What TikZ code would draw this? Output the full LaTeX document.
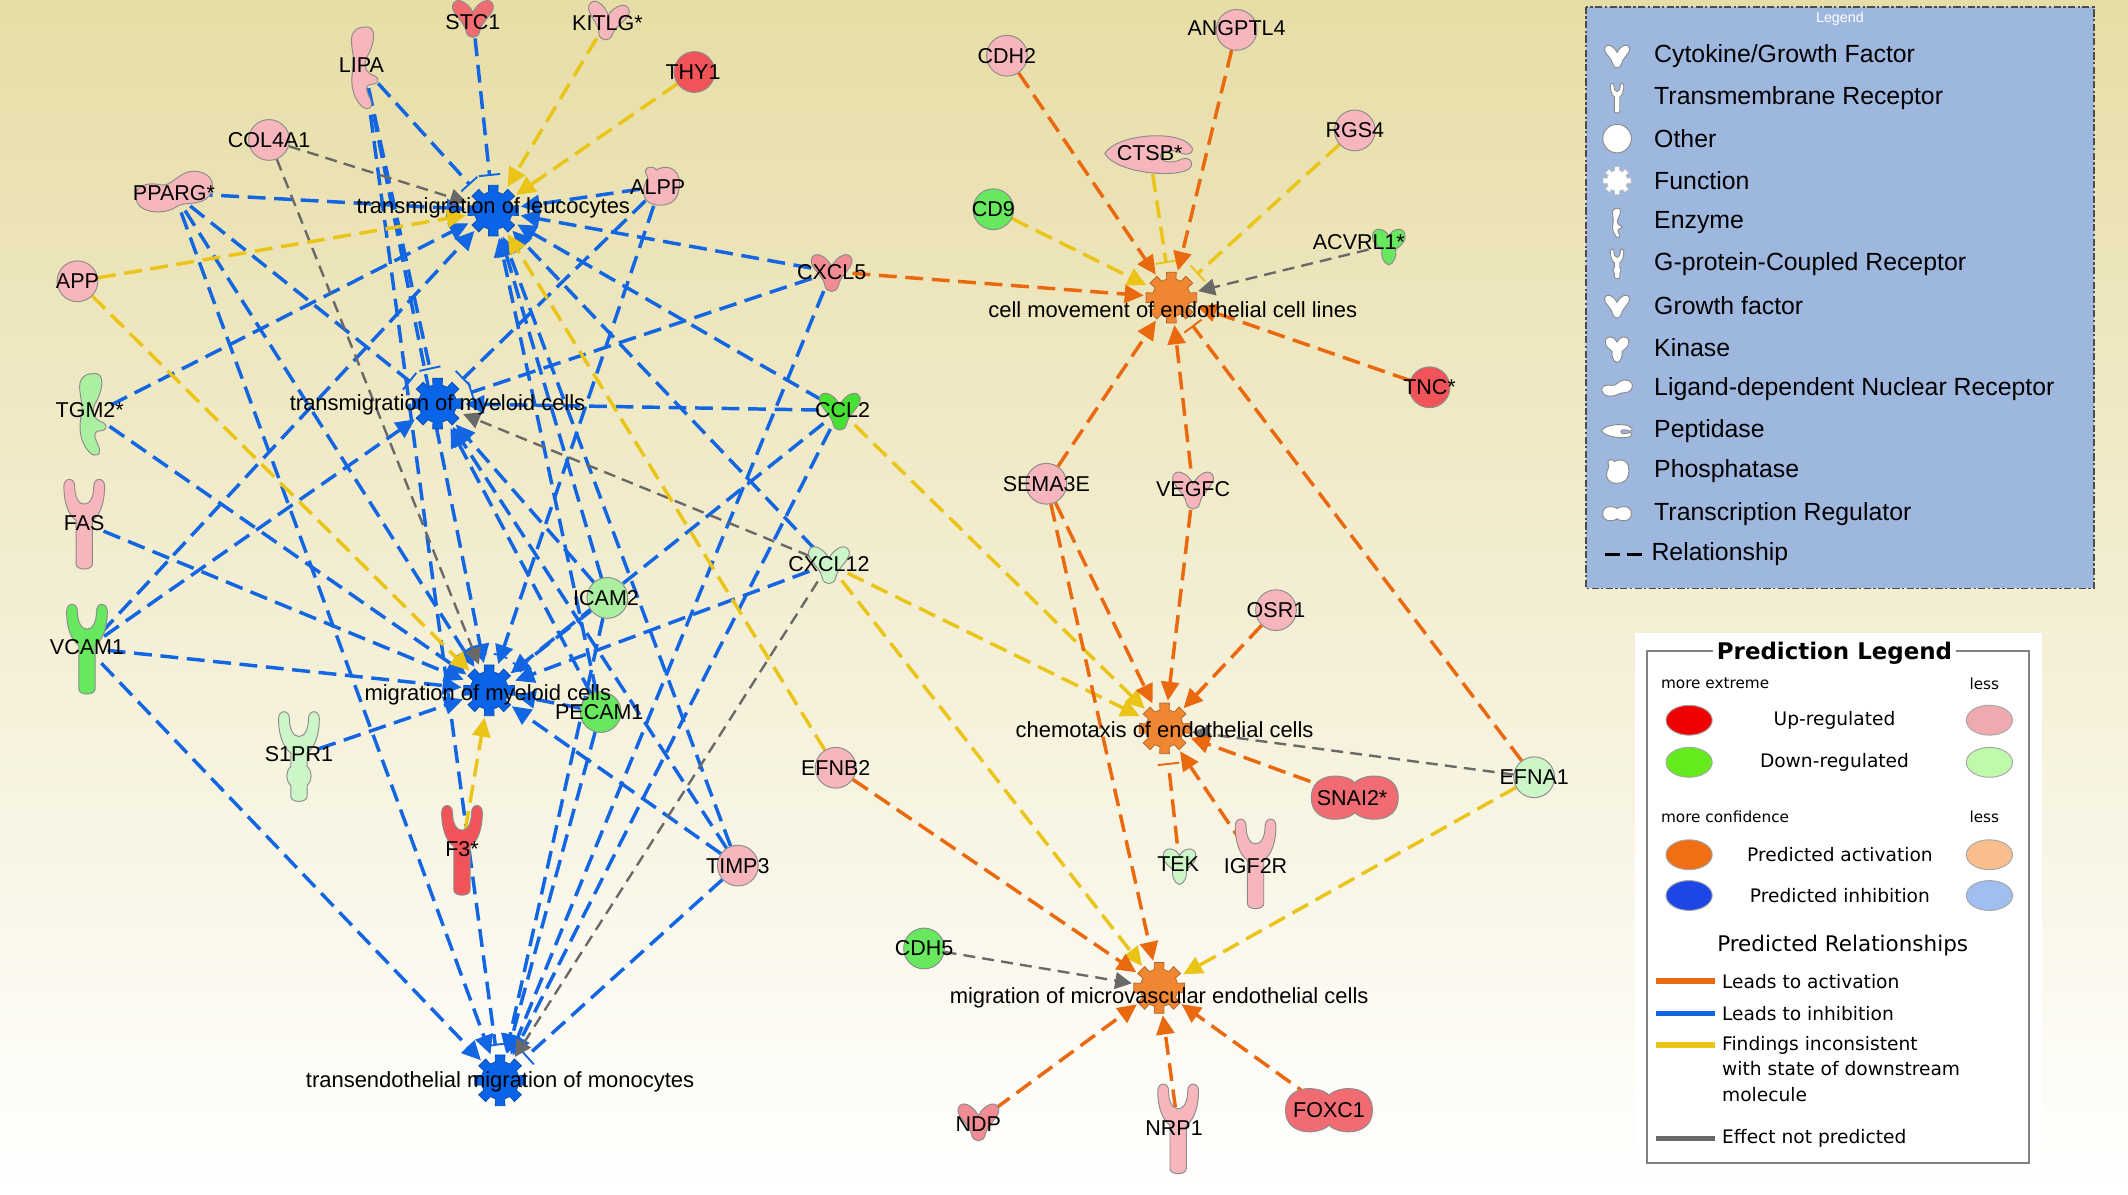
\documentclass[tikz,border=0pt]{standalone}
\usepackage{fontspec}
\setmainfont{Liberation Sans}
\newfontfamily\predfont{DejaVu Sans}
\usetikzlibrary{arrows.meta}

\definecolor{bgtop}{RGB}{231,221,166}
\definecolor{relblue}{RGB}{18,102,228}
\definecolor{relorange}{RGB}{234,104,14}
\definecolor{relyellow}{RGB}{234,196,22}
\definecolor{relgray}{RGB}{105,105,105}
\definecolor{fblue}{RGB}{10,100,232}
\definecolor{forange}{RGB}{238,134,50}
\definecolor{upsoft}{RGB}{246,182,188}
\definecolor{upmed}{RGB}{242,140,148}
\definecolor{upmid}{RGB}{240,108,114}
\definecolor{upstrong}{RGB}{240,84,88}
\definecolor{dnsoft}{RGB}{204,246,200}
\definecolor{dnmid}{RGB}{170,240,160}
\definecolor{dnstrong}{RGB}{104,232,94}
\definecolor{dnvivid}{RGB}{70,225,50}
\definecolor{shapeline}{RGB}{140,140,140}
\definecolor{legblue}{RGB}{158,183,222}

% molecule and function icons (y runs downwards)
\tikzset{
  pics/other/.style={code={\path[draw=shapeline, fill=#1] (0,0) circle[radius=15];}},
  pics/cytok/.style={code={\path[draw=shapeline, fill=#1] (0,-4) .. controls (-4,-12) and (-13,-16) .. (-15,-9) .. controls (-16,-3) and (-6,3) .. (-5,10) .. controls (-4,16) and (4,16) .. (5,10) .. controls (6,3) and (16,-3) .. (15,-9) .. controls (13,-16) and (4,-12) .. (0,-4) -- cycle;}},
  pics/tmrec/.style={code={\path[draw=shapeline, fill=#1] (-6,30) -- (-6,-2) .. controls (-12,-6) and (-15,-16) .. (-15,-27) .. controls (-15,-34) and (-7,-34) .. (-7,-27) .. controls (-7,-19) and (-4,-14) .. (0,-14) .. controls (4,-14) and (7,-19) .. (7,-27) .. controls (7,-34) and (15,-34) .. (15,-27) .. controls (15,-16) and (12,-6) .. (6,-2) -- (6,30) .. controls (6,35) and (-6,35) .. (-6,30) -- cycle;}},
  pics/gpcr/.style={code={\path[draw=shapeline, fill=#1] (-6,30) -- (-6,22) .. controls (-10,18) and (-10,12) .. (-6,8) -- (-6,-2) .. controls (-12,-6) and (-15,-16) .. (-15,-27) .. controls (-15,-34) and (-7,-34) .. (-7,-27) .. controls (-7,-19) and (-4,-14) .. (0,-14) .. controls (4,-14) and (7,-19) .. (7,-27) .. controls (7,-34) and (15,-34) .. (15,-27) .. controls (15,-16) and (12,-6) .. (6,-2) -- (6,8) .. controls (10,12) and (10,18) .. (6,22) -- (6,30) .. controls (6,35) and (-6,35) .. (-6,30) -- cycle;}},
  pics/enzyme/.style={code={\path[draw=shapeline, fill=#1] (0,-30) .. controls (10,-32) and (8,-18) .. (2,-8) .. controls (-1,-2) and (1,4) .. (8,6) .. controls (12,8) and (10,12) .. (6,12) .. controls (2,12) and (0,14) .. (4,22) .. controls (8,30) and (2,32) .. (-2,28) .. controls (-10,20) and (-10,8) .. (-8,0) .. controls (-6,-8) and (-12,-20) .. (-8,-26) .. controls (-6,-29) and (-3,-30) .. (0,-30) -- cycle;}},
  pics/phos/.style={code={\path[draw=shapeline, fill=#1] (-10,-8) .. controls (-14,-14) and (-6,-16) .. (-3,-12) .. controls (4,-16) and (14,-14) .. (14,-2) .. controls (14,10) and (8,14) .. (0,14) .. controls (-10,14) and (-14,8) .. (-12,0) .. controls (-11,-4) and (-8,-6) .. (-10,-8) -- cycle;}},
  pics/ldnr/.style={code={\path[draw=shapeline, fill=#1] (-28,4) .. controls (-30,-6) and (-18,-8) .. (-10,-6) .. controls (-2,-4) and (4,-16) .. (14,-16) .. controls (26,-16) and (32,-8) .. (26,2) .. controls (20,10) and (8,6) .. (2,10) .. controls (-6,16) and (-26,16) .. (-28,4) -- cycle;}},
  pics/pept/.style={code={\path[draw=shapeline, fill=#1] (-33,0) .. controls (-25,-14) and (20,-18) .. (30,-6) .. controls (34,-2) and (30,2) .. (24,0) .. controls (16,-4) and (8,-2) .. (8,2) .. controls (8,6) and (16,8) .. (24,4) .. controls (30,2) and (34,8) .. (28,12) .. controls (16,18) and (-25,14) .. (-33,0) -- cycle;}},
  pics/kinase/.style={code={\path[draw=shapeline, fill=#1] (0,-6) .. controls (-2,-12) and (-12,-14) .. (-12,-6) .. controls (-12,0) and (-6,2) .. (-5,4) .. controls (-6,8) and (-4,14) .. (0,15) .. controls (4,14) and (6,8) .. (5,4) .. controls (6,2) and (12,0) .. (12,-6) .. controls (12,-14) and (2,-12) .. (0,-6) -- cycle;}},
  pics/treg/.style={code={\path[draw=shapeline, fill=#1] (0,-11) .. controls (6,-18) and (32,-20) .. (32,0) .. controls (32,20) and (6,18) .. (0,11) .. controls (-6,18) and (-32,20) .. (-32,0) .. controls (-32,-20) and (-6,-18) .. (0,-11) -- cycle;}},
  pics/gear/.style={code={\path[draw=#1!75!black, line width=0.3pt, fill=#1] (-14:14) \foreach \a in {0,45,...,315} {-- (\a-14:14) -- (\a-11:19) -- (\a+11:19) -- (\a+14:14)} -- cycle;}}
}

\begin{document}
\begin{tikzpicture}[x=0.02cm, y=-0.02cm,
    hub/.style={circle, inner sep=0pt, minimum size=0.6cm},
    fhub/.style={circle, inner sep=0pt, minimum size=0.8cm},
    glabel/.style={inner sep=0pt, font=\fontsize{9}{10}\selectfont},
    flabel/.style={inner sep=0pt, font=\fontsize{9.2}{11}\selectfont},
    relline/.style={line width=1.45pt, dash pattern=on 7.5pt off 3.6pt},
    arrowend/.style={-{Triangle[length=8pt,width=7.5pt]}},
    barend/.style={-{Bar[width=9pt,line width=0.8pt]}, shorten >=3pt},
    toinh/.style={relline, relblue, arrowend},
    barinh/.style={relline, relblue, barend},
    toact/.style={relline, relorange, arrowend},
    baract/.style={relline, relorange, barend},
    toinc/.style={relline, relyellow, arrowend},
    barinc/.style={relline, relyellow, barend},
    tonone/.style={line width=1pt, dash pattern=on 5pt off 3pt, relgray, -{Triangle[length=7pt,width=7pt]}},
    legtext/.style={anchor=west, inner sep=0pt, font=\fontsize{10.4}{12}\selectfont},
    predtext/.style={inner sep=0pt, font=\predfont\fontsize{7.8}{9.5}\selectfont}]

\useasboundingbox (0,0) rectangle (1566,878.7);
\shade[top color=bgtop, bottom color=white] (0,0) rectangle (1566,878.7);

% functions
\node[fhub] (tl) at (363,155) {};
\node[fhub] (tm) at (322,297) {};
\node[fhub] (mm) at (360,508) {};
\node[fhub] (tmo) at (368,795) {};
\node[fhub] (cm) at (862,219) {};
\node[fhub] (ce) at (857,536) {};
\node[fhub] (mmv) at (853,727) {};

% molecules
\node[hub] (stc1) at (348,13) {};
\node[hub] (kitlg) at (447,15) {};
\node[hub] (lipa) at (268,50) {};
\node[hub] (thy1) at (511,53) {};
\node[hub] (col4a1) at (198,103) {};
\node[hub] (pparg) at (128,142) {};
\node[hub] (alpp) at (486,137) {};
\node[hub] (app) at (57,207) {};
\node[hub] (cxcl5) at (612,200) {};
\node[hub] (tgm2) at (68,305) {};
\node[hub] (ccl2) at (618,302) {};
\node[hub] (fas) at (62,385) {};
\node[hub] (cxcl12) at (610,415) {};
\node[hub] (icam2) at (447,440) {};
\node[hub] (vcam1) at (64,477) {};
\node[hub] (pecam1) at (442,524) {};
\node[hub] (s1pr1) at (220,556) {};
\node[hub] (f3) at (340,625) {};
\node[hub] (timp3) at (543,637) {};
\node[hub] (efnb2) at (615,565) {};
\node[hub] (cdh2) at (741,41) {};
\node[hub] (angptl4) at (910,22) {};
\node[hub] (rgs4) at (997,96) {};
\node[hub] (ctsb) at (846,113) {};
\node[hub] (cd9) at (731,154) {};
\node[hub] (acvrl1) at (1022,180) {};
\node[hub] (tnc) at (1052,285) {};
\node[hub] (sema3e) at (770,356) {};
\node[hub] (vegfc) at (878,360) {};
\node[hub] (osr1) at (939,449) {};
\node[hub] (snai2) at (997,587) {};
\node[hub] (efna1) at (1129,572) {};
\node[hub] (tek) at (868,636) {};
\node[hub] (igf2r) at (924,635) {};
\node[hub] (cdh5) at (680,698) {};
\node[hub] (ndp) at (720,825) {};
\node[hub] (nrp1) at (867,830) {};
\node[hub] (foxc1) at (978,817) {};

% relationships
\foreach \s in {stc1,lipa} \draw[barinh] (\s) -- (tl);
\foreach \s in {pparg,alpp,tgm2,vcam1,cxcl5,ccl2,cxcl12,icam2,pecam1,timp3} \draw[toinh] (\s) -- (tl);
\foreach \s in {lipa,pparg,alpp,cxcl5} \draw[barinh] (\s) -- (tm);
\foreach \s in {vcam1,ccl2,icam2,pecam1,timp3} \draw[toinh] (\s) -- (tm);
\foreach \s in {pparg,tgm2,fas,vcam1,s1pr1,lipa,alpp,ccl2,cxcl12,icam2,pecam1,timp3} \draw[toinh] (\s) -- (mm);
\foreach \s in {vcam1,pparg,ccl2,cxcl5,icam2,pecam1} \draw[toinh] (\s) -- (tmo);
\foreach \s in {lipa,timp3} \draw[barinh] (\s) -- (tmo);
\draw[relblue, line width=0.8pt, dash pattern=on 6pt off 3pt] ([shift={(-150:27)}]mm.center) arc[start angle=-150, end angle=-30, radius=27];

\draw[tonone] (col4a1) -- (tl);
\draw[tonone] (col4a1) -- (mm);
\draw[tonone] (cxcl12) -- (tm);
\draw[tonone] (cxcl12) -- (tmo);
\draw[tonone] (acvrl1) -- (cm);
\draw[tonone] (efna1) -- (ce);
\draw[tonone] (cdh5) -- (mmv);

\foreach \s in {kitlg,thy1,app,efnb2} \draw[toinc] (\s) -- (tl);
\foreach \s in {app,f3} \draw[toinc] (\s) -- (mm);
\draw[toinc] (cd9) -- (cm);
\foreach \s in {ctsb,rgs4} \draw[barinc] (\s) -- (cm);
\foreach \s in {ccl2,cxcl12} \draw[toinc] (\s) -- (ce);
\foreach \s in {cxcl12,efna1} \draw[toinc] (\s) -- (mmv);

\foreach \s in {cdh2,angptl4,cxcl5,tnc,sema3e,vegfc} \draw[toact] (\s) -- (cm);
\draw[baract] (efna1) -- (cm);
\foreach \s in {sema3e,vegfc,osr1,snai2,igf2r} \draw[toact] (\s) -- (ce);
\draw[baract] (tek) -- (ce);
\foreach \s in {efnb2,sema3e,ndp,nrp1,foxc1} \draw[toact] (\s) -- (mmv);

% icons
\foreach \f in {tl,tm,mm,tmo} \pic at (\f) {gear=fblue};
\foreach \f in {cm,ce,mmv} \pic at (\f) {gear=forange};
\pic at (stc1) {cytok=upmid};
\pic[rotate=-8] at (kitlg) {cytok=upsoft};
\pic at (lipa) {enzyme=upsoft};
\pic at (thy1) {other=upstrong};
\pic at (col4a1) {other=upsoft};
\pic at (pparg) {ldnr=upsoft};
\pic at (alpp) {phos=upsoft};
\pic at (app) {other=upsoft};
\pic at (cxcl5) {cytok=upmed};
\pic at (tgm2) {enzyme=dnmid};
\pic at (ccl2) {cytok=dnvivid};
\pic at (fas) {tmrec=upsoft};
\pic at (cxcl12) {cytok=dnsoft};
\pic at (icam2) {other=dnmid};
\pic at (vcam1) {tmrec=dnstrong};
\pic at (pecam1) {other=dnstrong};
\pic at (s1pr1) {gpcr=dnsoft};
\pic at (f3) {tmrec=upstrong};
\pic at (timp3) {other=upsoft};
\pic at (efnb2) {other=upsoft};
\pic at (cdh2) {other=upsoft};
\pic at (angptl4) {other=upsoft};
\pic at (rgs4) {other=upsoft};
\pic at (ctsb) {pept=upsoft};
\pic at (cd9) {other=dnstrong};
\pic at (acvrl1) {kinase=dnstrong};
\pic at (tnc) {other=upstrong};
\pic at (sema3e) {other=upsoft};
\pic at (vegfc) {cytok=upsoft};
\pic at (osr1) {other=upsoft};
\pic at (snai2) {treg=upmid};
\pic at (efna1) {other=dnsoft};
\pic at (tek) {kinase=dnsoft};
\pic at (igf2r) {tmrec=upsoft};
\pic at (cdh5) {other=dnstrong};
\pic at (ndp) {cytok=upmed};
\pic at (nrp1) {tmrec=upsoft};
\pic at (foxc1) {treg=upmid};

% labels
\node[flabel] (tl-l) at (363,153) {transmigration of leucocytes};
\node[flabel] (tm-l) at (322,298) {transmigration of myeloid cells};
\node[flabel] (mm-l) at (359,511) {migration of myeloid cells};
\node[flabel] (tmo-l) at (368,796) {transendothelial migration of monocytes};
\node[flabel] (cm-l) at (863,228) {cell movement of endothelial cell lines};
\node[flabel] (ce-l) at (857,537) {chemotaxis of endothelial cells};
\node[flabel] (mmv-l) at (853,734) {migration of microvascular endothelial cells};

\node[glabel] (stc1-l) at (348,16) {STC1};
\node[glabel] (kitlg-l) at (447,17) {KITLG*};
\node[glabel] (lipa-l) at (266,48) {LIPA};
\node[glabel] (thy1-l) at (510,53) {THY1};
\node[glabel] (col4a1-l) at (198,103) {COL4A1};
\node[glabel] (pparg-l) at (128,142) {PPARG*};
\node[glabel] (alpp-l) at (484,138) {ALPP};
\node[glabel] (app-l) at (57,207) {APP};
\node[glabel] (cxcl5-l) at (612,200) {CXCL5};
\node[glabel] (tgm2-l) at (66,302) {TGM2*};
\node[glabel] (ccl2-l) at (620,302) {CCL2};
\node[glabel] (fas-l) at (62,385) {FAS};
\node[glabel] (cxcl12-l) at (610,415) {CXCL12};
\node[glabel] (icam2-l) at (446,440) {ICAM2};
\node[glabel] (vcam1-l) at (64,476) {VCAM1};
\node[glabel] (pecam1-l) at (441,524) {PECAM1};
\node[glabel] (s1pr1-l) at (220,555) {S1PR1};
\node[glabel] (f3-l) at (340,625) {F3*};
\node[glabel] (timp3-l) at (543,637) {TIMP3};
\node[glabel] (efnb2-l) at (615,565) {EFNB2};
\node[glabel] (cdh2-l) at (741,41) {CDH2};
\node[glabel] (angptl4-l) at (910,21) {ANGPTL4};
\node[glabel] (rgs4-l) at (997,96) {RGS4};
\node[glabel] (ctsb-l) at (846,113) {CTSB*};
\node[glabel] (cd9-l) at (731,154) {CD9};
\node[glabel] (acvrl1-l) at (1000,178) {ACVRL1*};
\node[glabel] (tnc-l) at (1052,285) {TNC*};
\node[glabel] (sema3e-l) at (770,356) {SEMA3E};
\node[glabel] (vegfc-l) at (878,360) {VEGFC};
\node[glabel] (osr1-l) at (939,449) {OSR1};
\node[glabel] (snai2-l) at (995,587) {SNAI2*};
\node[glabel] (efna1-l) at (1129,572) {EFNA1};
\node[glabel] (tek-l) at (867,636) {TEK};
\node[glabel] (igf2r-l) at (924,637) {IGF2R};
\node[glabel] (cdh5-l) at (680,698) {CDH5};
\node[glabel] (ndp-l) at (720,827) {NDP};
\node[glabel] (nrp1-l) at (864,830) {NRP1};
\node[glabel] (foxc1-l) at (978,817) {FOXC1};

% legend
\draw[fill=legblue, draw=black!70, line width=0.6pt, dash pattern=on 3pt off 1pt on 1pt off 1pt] (1167,5) rectangle (1541,433);
\node[text=white, inner sep=0pt, font=\fontsize{6}{7}\selectfont] (legtitle) at (1354,14) {Legend};
\pic[scale=0.62] at (1190,41) {cytok=white};
\pic[scale=0.33] at (1190,72) {tmrec=white};
\pic[scale=0.7] at (1190,102) {other=white};
\pic[scale=0.55] at (1190,133) {gear=white};
\pic[scale=0.36] at (1190,164) {enzyme=white};
\pic[scale=0.33] at (1190,194) {gpcr=white};
\pic[scale=0.62] at (1190,225) {cytok=white};
\pic[scale=0.72] at (1190,256) {kinase=white};
\pic[scale=0.4] at (1190,286) {ldnr=white};
\pic[scale=0.35] at (1190,317) {pept=white};
\pic[scale=0.62] at (1190,347) {phos=white};
\pic[scale=0.33] at (1190,378) {treg=white};
\foreach \y/\t [count=\i] in {41/{Cytokine/Growth Factor}, 72/{Transmembrane Receptor}, 102/Other, 133/Function, 164/Enzyme, 194/{G-protein-Coupled Receptor}, 225/{Growth factor}, 256/Kinase, 286/{Ligand-dependent Nuclear Receptor}, 317/Peptidase, 347/Phosphatase, 378/{Transcription Regulator}}
  \node[legtext] (leg\i) at (1217,\y) {\t};
\draw[line width=1pt] (1181,408) -- (1192,408) (1197,408) -- (1208,408);
\node[legtext] (legrel) at (1215,408) {Relationship};

% prediction legend
\fill[white] (1203,466) rectangle (1503,862);
\draw[gray, line width=0.9pt] (1212,479) rectangle (1493,856);
\node[fill=white, inner sep=1.5pt, font=\predfont\bfseries\fontsize{9.6}{11}\selectfont] (predtitle) at (1350,481) {Prediction Legend};
\node[predtext, anchor=west, font=\predfont\fontsize{6.4}{8}\selectfont] (moreext) at (1222,503) {more extreme};
\node[predtext, anchor=west, font=\predfont\fontsize{6.4}{8}\selectfont] (less1) at (1449,503) {less};
\node[predtext, anchor=west, font=\predfont\fontsize{6.4}{8}\selectfont] (moreconf) at (1222,601) {more confidence};
\node[predtext, anchor=west, font=\predfont\fontsize{6.4}{8}\selectfont] (less2) at (1449,601) {less};
\foreach \y/\cl/\cr in {530/{red!94!black}/{rgb,255:red,240;green,170;blue,175}, 561/{rgb,255:red,100;green,235;blue,30}/{rgb,255:red,190;green,250;blue,170}, 629/{rgb,255:red,240;green,110;blue,20}/{rgb,255:red,250;green,190;blue,140}, 659/{rgb,255:red,30;green,70;blue,230}/{rgb,255:red,160;green,190;blue,240}} {
  \draw[gray!70, fill=\cl] (1243,\y) ellipse[x radius=17, y radius=11];
  \draw[gray!70, fill=\cr] (1464,\y) ellipse[x radius=17, y radius=11];
}
\node[predtext] (pup) at (1350,530) {Up-regulated};
\node[predtext] (pdown) at (1350,561) {Down-regulated};
\node[predtext] (pact) at (1354,629) {Predicted activation};
\node[predtext] (pinh) at (1354,659) {Predicted inhibition};
\node[predtext, font=\predfont\fontsize{9}{11}\selectfont] (prel) at (1356,696) {Predicted Relationships};
\draw[line width=2.2pt, relorange] (1219,722) -- (1262,722);
\draw[line width=2.2pt, relblue] (1219,746) -- (1262,746);
\draw[line width=2.2pt, relyellow] (1219,769) -- (1262,769);
\draw[line width=2.2pt, relgray] (1219,838) -- (1262,838);
\node[predtext, anchor=west] (pla) at (1267,722) {Leads to activation};
\node[predtext, anchor=west] (pli) at (1267,746) {Leads to inhibition};
\node[predtext, anchor=north west, align=left, font=\predfont\fontsize{7.8}{10.8}\selectfont] (pfi) at (1267,762) {Findings inconsistent\\with state of downstream\\molecule};
\node[predtext, anchor=west] (pen) at (1267,838) {Effect not predicted};
\end{tikzpicture}
\end{document}
